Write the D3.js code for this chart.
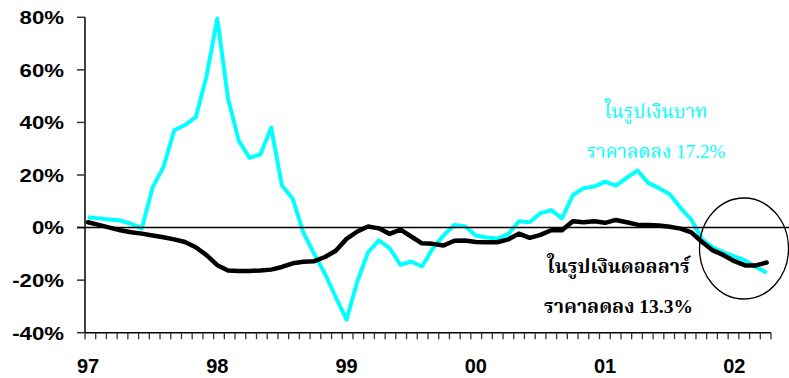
<!DOCTYPE html>
<html>
<head>
<meta charset="utf-8">
<script src="https://cdn.jsdelivr.net/npm/d3@7"></script>
<style>
  html, body { margin: 0; padding: 0; background: #fff; }
  svg { display: block; }
</style>
</head>
<body>
<svg id="chart" width="789" height="378"></svg>
<script>
// ---- data (monthly, Jan 1997 – Apr 2002) ----
const yearLabels = ["97", "98", "99", "00", "01", "02"];
const yearLabelIndex = [0, 12, 24, 36, 48, 60];
const yTickValues = [-40, -20, 0, 20, 40, 60, 80];

// price change in baht terms (%)
const bahtSeries = [
  3.9, 3.5, 3.1, 2.7, 1.4, -0.3, 15.3, 23, 37, 39,
  42, 57.5, 79.5, 49, 33, 26.5, 27.8, 38, 16, 11,
  -2, -10, -17.6, -26.5, -35, -20.5, -9.4, -4.9, -7.8, -14.2,
  -12.9, -14.8, -8, -3, 1, 0.5, -3, -3.8, -4.2, -2.5,
  2.4, 2, 5.5, 6.6, 3.5, 12.3, 15, 15.6, 17.5, 16,
  18.9, 21.7, 17, 15, 12.7, 7.5, 3, -4.5, -7.5, -9.4,
  -11, -12.5, -15, -17.2
];
// price change in dollar terms (%)
const dollarSeries = [
  2, 1, 0, -1, -1.8, -2.3, -3, -3.7, -4.5, -5.5,
  -7.5, -10.5, -14.3, -16.3, -16.5, -16.5, -16.3, -16, -15, -13.6,
  -13, -12.8, -11.2, -8.8, -4.3, -1.5, 0.4, -0.3, -2.4, -0.8,
  -3.4, -6, -6.2, -6.8, -5, -4.9, -5.5, -5.6, -5.6, -4.5,
  -2.3, -3.9, -2.8, -1, -1, 2.4, 2, 2.4, 1.8, 2.9,
  2, 1.1, 1, 0.8, 0.3, -0.4, -1.8, -5.5, -8.7, -10.5,
  -12.8, -14.4, -14.4, -13.3
];
const bahtLabel = ["ในรูปเงินบาท", "ราคาลดลง 17.2%"];
const dollarLabel = ["ในรูปเงินดอลลาร์", "ราคาลดลง 13.3%"];

// ---- layout ----
const svg = d3.select("#chart");
const x = d3.scaleLinear().domain([-0.28, 63.4]).range([85, 771]);
const y = d3.scaleLinear().domain([-40, 80]).range([332.7, 17.3]);
const nTicks = 64;
const tickScale = d3.scaleLinear().domain([0, nTicks]).range(x.range());

// y axis
svg.append("line")
  .attr("x1", 85).attr("x2", 85)
  .attr("y1", y(80)).attr("y2", y(-40))
  .attr("stroke", "#000").attr("stroke-width", 1.5);
svg.selectAll(".ytick").data(yTickValues).join("line")
  .attr("x1", 77).attr("x2", 85)
  .attr("y1", d => y(d)).attr("y2", d => y(d))
  .attr("stroke", "#333").attr("stroke-width", 1.5);
svg.selectAll(".ylab").data(yTickValues).join("text")
  .attr("transform", d => `translate(64,${y(d)}) scale(1.17,1)`)
  .attr("text-anchor", "end")
  .attr("dy", "0.36em")
  .attr("font-family", "Liberation Sans, Arial, sans-serif")
  .attr("font-weight", "bold")
  .attr("font-size", 19)
  .attr("fill", "#000")
  .text(d => d + "%");

// x axis
svg.append("line")
  .attr("x1", x.range()[0]).attr("x2", x.range()[1])
  .attr("y1", y(-40)).attr("y2", y(-40))
  .attr("stroke", "#000").attr("stroke-width", 1.5);
svg.selectAll(".xtick").data(d3.range(nTicks + 1)).join("line")
  .attr("x1", d => tickScale(d)).attr("x2", d => tickScale(d))
  .attr("y1", y(-40)).attr("y2", y(-40) + 6.5)
  .attr("stroke", "#333").attr("stroke-width", 1.3);
svg.selectAll(".xlab").data(yearLabels).join("text")
  .attr("x", (d, i) => x(yearLabelIndex[i]))
  .attr("y", 373)
  .attr("text-anchor", "middle")
  .attr("font-family", "Liberation Sans, Arial, sans-serif")
  .attr("font-weight", "bold")
  .attr("font-size", 20)
  .attr("fill", "#000")
  .text(d => d);

// series
const line = d3.line().x((d, i) => x(i)).y(d => y(d));
svg.append("path").datum(bahtSeries)
  .attr("d", line).attr("fill", "none")
  .attr("stroke", "#00FFFF").attr("stroke-width", 4)
  .attr("stroke-linejoin", "round");
svg.append("path").datum(dollarSeries)
  .attr("d", line).attr("fill", "none")
  .attr("stroke", "#000").attr("stroke-width", 4.5)
  .attr("stroke-linejoin", "round").attr("stroke-linecap", "round");

// zero line
svg.append("line")
  .attr("x1", 77).attr("x2", 789)
  .attr("y1", y(0)).attr("y2", y(0))
  .attr("stroke", "#000").attr("stroke-width", 1.5);

// highlight ellipse
svg.append("ellipse")
  .attr("cx", 744).attr("cy", 248.5)
  .attr("rx", 44.5).attr("ry", 50.5)
  .attr("fill", "none").attr("stroke", "#000").attr("stroke-width", 1.3);

// annotations
const thaiFont = "'Liberation Serif', 'Noto Serif Thai', 'Noto Sans Thai', 'Times New Roman', serif";
svg.selectAll(".blab").data(bahtLabel).join("text")
  .attr("x", 656)
  .attr("y", (d, i) => [118, 158][i])
  .attr("text-anchor", "middle")
  .attr("font-family", thaiFont)
  .attr("font-size", 19)
  .attr("fill", "#00FFFF")
  .text(d => d);
svg.selectAll(".dlab").data(dollarLabel).join("text")
  .attr("x", 618.5)
  .attr("y", (d, i) => [273, 313][i])
  .attr("text-anchor", "middle")
  .attr("font-family", thaiFont)
  .attr("font-weight", "bold")
  .attr("font-size", 19.5)
  .attr("fill", "#000")
  .text(d => d);
</script>
</body>
</html>
